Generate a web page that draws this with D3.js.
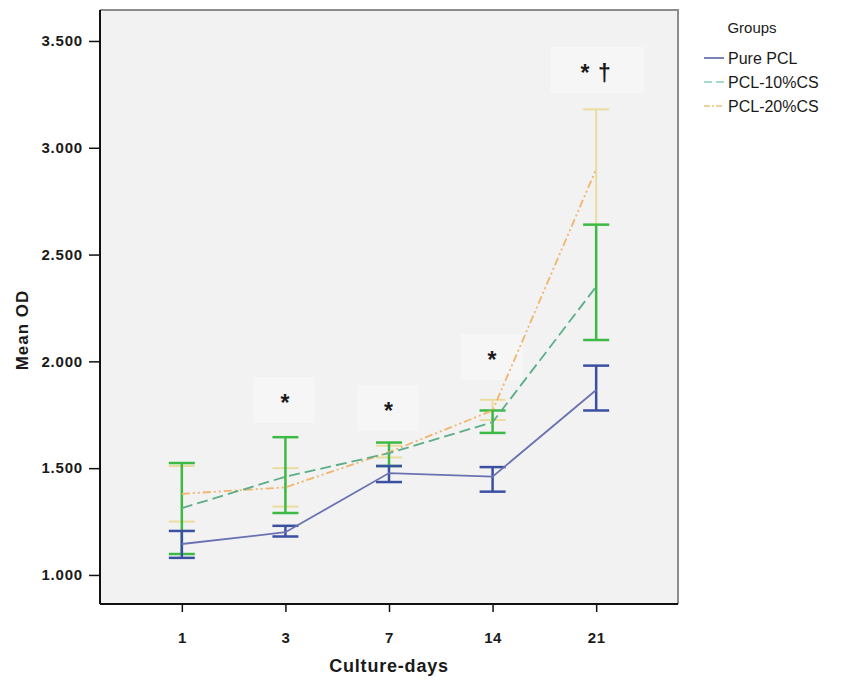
<!DOCTYPE html>
<html>
<head>
<meta charset="utf-8">
<script src="https://cdn.jsdelivr.net/npm/d3@7"></script>
<style>
  body { margin: 0; background: #fff; }
  svg text { font-family: "Liberation Sans", Arial, sans-serif; fill: #1a1a1a; }
</style>
</head>
<body>
<div id="chart"></div>
<script>
// culture days on the x axis
const days = ["1", "3", "7", "14", "21"];
const yTicks = [1.0, 1.5, 2.0, 2.5, 3.0, 3.5];

// group names + mean OD with error bar ends
const groups = ["Pure PCL", "PCL-10%CS", "PCL-20%CS"];
const pureMean = [1.145, 1.200, 1.477, 1.460, 1.866];
const pureLo   = [1.080, 1.180, 1.435, 1.390, 1.770];
const pureHi   = [1.206, 1.230, 1.510, 1.505, 1.980];
const cs10Mean = [1.313, 1.460, 1.570, 1.715, 2.350];
const cs10Lo   = [1.098, 1.290, 1.510, 1.665, 2.100];
const cs10Hi   = [1.524, 1.645, 1.620, 1.770, 2.640];
const cs20Mean = [1.380, 1.410, 1.575, 1.770, 2.900];
const cs20Lo   = [1.250, 1.320, 1.550, 1.725, 2.640];
const cs20Hi   = [1.510, 1.500, 1.605, 1.820, 3.180];

// significance marks
const markDays = ["3", "7", "14", "21"];
const markText = ["*", "*", "*", "* \u2020"];
const markValues = [1.805, 1.768, 2.007, 3.35];

const W = 859, H = 684;
const plot = { left: 100, right: 678, top: 10, bottom: 604 };

const svg = d3.select("#chart").append("svg")
    .attr("width", W)
    .attr("height", H);

const x = d3.scalePoint()
    .domain(days)
    .range([plot.left, plot.right])
    .padding(0.79);

const y = d3.scaleLinear()
    .domain([0.864, 3.645])
    .range([plot.bottom, plot.top]);

// plot background
svg.append("rect")
    .attr("x", plot.left).attr("y", plot.top)
    .attr("width", plot.right - plot.left)
    .attr("height", plot.bottom - plot.top)
    .attr("fill", "#f2f2f2");

// top/right frame in grey
svg.append("path")
    .attr("d", `M${plot.left},${plot.top}H${plot.right}V${plot.bottom}`)
    .attr("fill", "none")
    .attr("stroke", "#8c8c8c")
    .attr("stroke-width", 2);

// faint boxes behind the marks
const marks = markDays.map((d, i) => ({ day: d, text: markText[i], v: markValues[i] }));
svg.append("g").selectAll("rect")
    .data(marks)
    .enter().append("rect")
    .attr("x", d => x(d.day) - (d.text.length > 1 ? 46 : 32))
    .attr("y", d => y(d.v) - 26)
    .attr("width", d => d.text.length > 1 ? 94 : 62)
    .attr("height", 46)
    .attr("fill", "#f6f6f6");

// axes
const yAxis = d3.axisLeft(y)
    .tickValues(yTicks)
    .tickFormat(d3.format(".3f"))
    .tickSize(11)
    .tickPadding(6);

const gy = svg.append("g")
    .attr("transform", `translate(${plot.left},0)`)
    .call(yAxis);
gy.select(".domain").attr("stroke", "#111").attr("stroke-width", 2)
    .attr("d", `M0,${plot.top}V${plot.bottom}`);
gy.selectAll(".tick line").attr("stroke", "#111").attr("stroke-width", 1.5);
gy.selectAll(".tick text")
    .attr("font-size", 15).attr("font-weight", "bold")
    .attr("letter-spacing", 0.8)
    .attr("fill", "#333");

const xAxis = d3.axisBottom(x)
    .tickSize(8)
    .tickPadding(20);

const gx = svg.append("g")
    .attr("transform", `translate(0,${plot.bottom})`)
    .call(xAxis);
gx.select(".domain").attr("stroke", "#111").attr("stroke-width", 2)
    .attr("d", `M${plot.left},0H${plot.right}`);
gx.selectAll(".tick line").attr("stroke", "#111").attr("stroke-width", 1.5);
gx.selectAll(".tick text")
    .attr("font-size", 15).attr("font-weight", "bold")
    .attr("letter-spacing", 0.5)
    .attr("fill", "#333");

svg.append("text")
    .attr("x", (plot.left + plot.right) / 2)
    .attr("y", 672)
    .attr("text-anchor", "middle")
    .attr("font-size", 18).attr("font-weight", "bold")
    .attr("letter-spacing", 0.8)
    .text("Culture-days");

svg.append("text")
    .attr("transform", `translate(28,330) rotate(-90)`)
    .attr("text-anchor", "middle")
    .attr("font-size", 17).attr("font-weight", "bold")
    .attr("letter-spacing", 1)
    .text("Mean OD");

// series styles
const series = [
    { name: groups[0], mean: pureMean, lo: pureLo, hi: pureHi,
      line: "#6a72b2", dash: null, bar: "#3b4fa3", barW: 2.5, legend: "#7c82b8" },
    { name: groups[1], mean: cs10Mean, lo: cs10Lo, hi: cs10Hi,
      line: "#5cae88", dash: "11,5", bar: "#3dba45", barW: 2.5, legend: "#a6dcc6" },
    { name: groups[2], mean: cs20Mean, lo: cs20Lo, hi: cs20Hi,
      line: "#f0b46c", dash: "8,3,2,3,2,3", bar: "#eadc9e", barW: 2, legend: "#e6d49a" }
];

const capHalf = 13;
const drawOrder = [2, 1, 0];

// error bars
drawOrder.forEach(k => {
    const s = series[k];
    const g = svg.append("g").attr("stroke", s.bar).attr("stroke-width", s.barW).attr("fill", "none");
    const pts = days.map((d, i) => ({ day: d, lo: s.lo[i], hi: s.hi[i] }));
    g.selectAll("line.v").data(pts).enter().append("line")
        .attr("x1", d => x(d.day)).attr("x2", d => x(d.day))
        .attr("y1", d => y(d.lo)).attr("y2", d => y(d.hi));
    g.selectAll("line.lo").data(pts).enter().append("line")
        .attr("x1", d => x(d.day) - capHalf).attr("x2", d => x(d.day) + capHalf)
        .attr("y1", d => y(d.lo)).attr("y2", d => y(d.lo));
    g.selectAll("line.hi").data(pts).enter().append("line")
        .attr("x1", d => x(d.day) - capHalf).attr("x2", d => x(d.day) + capHalf)
        .attr("y1", d => y(d.hi)).attr("y2", d => y(d.hi));
});

// mean lines
const lineGen = d3.line()
    .x(d => x(d.day))
    .y(d => y(d.v));

drawOrder.forEach(k => {
    const s = series[k];
    svg.append("path")
        .datum(days.map((d, i) => ({ day: d, v: s.mean[i] })))
        .attr("d", lineGen)
        .attr("fill", "none")
        .attr("stroke", s.line)
        .attr("stroke-width", 1.8)
        .attr("stroke-dasharray", s.dash);
});

// significance marks
svg.append("g").selectAll("text")
    .data(marks)
    .enter().append("text")
    .attr("x", d => x(d.day))
    .attr("y", d => y(d.v) + 8)
    .attr("text-anchor", "middle")
    .attr("font-size", 23).attr("font-weight", "bold")
    .attr("letter-spacing", 1)
    .attr("fill", "#111")
    .text(d => d.text);

// legend
const legend = svg.append("g").attr("transform", "translate(702,0)");
legend.append("text")
    .attr("x", 50).attr("y", 33)
    .attr("text-anchor", "middle")
    .attr("font-size", 15)
    .text("Groups");

series.forEach((s, i) => {
    const ly = 58 + i * 24;
    legend.append("line")
        .attr("x1", 2).attr("x2", 22)
        .attr("y1", ly).attr("y2", ly)
        .attr("stroke", s.legend)
        .attr("stroke-width", 2)
        .attr("stroke-dasharray", s.dash ? (i === 1 ? "8,4" : "6,2,2,2") : null);
    legend.append("text")
        .attr("x", 26).attr("y", ly + 6)
        .attr("font-size", 16)
        .text(s.name);
});
</script>
</body>
</html>
